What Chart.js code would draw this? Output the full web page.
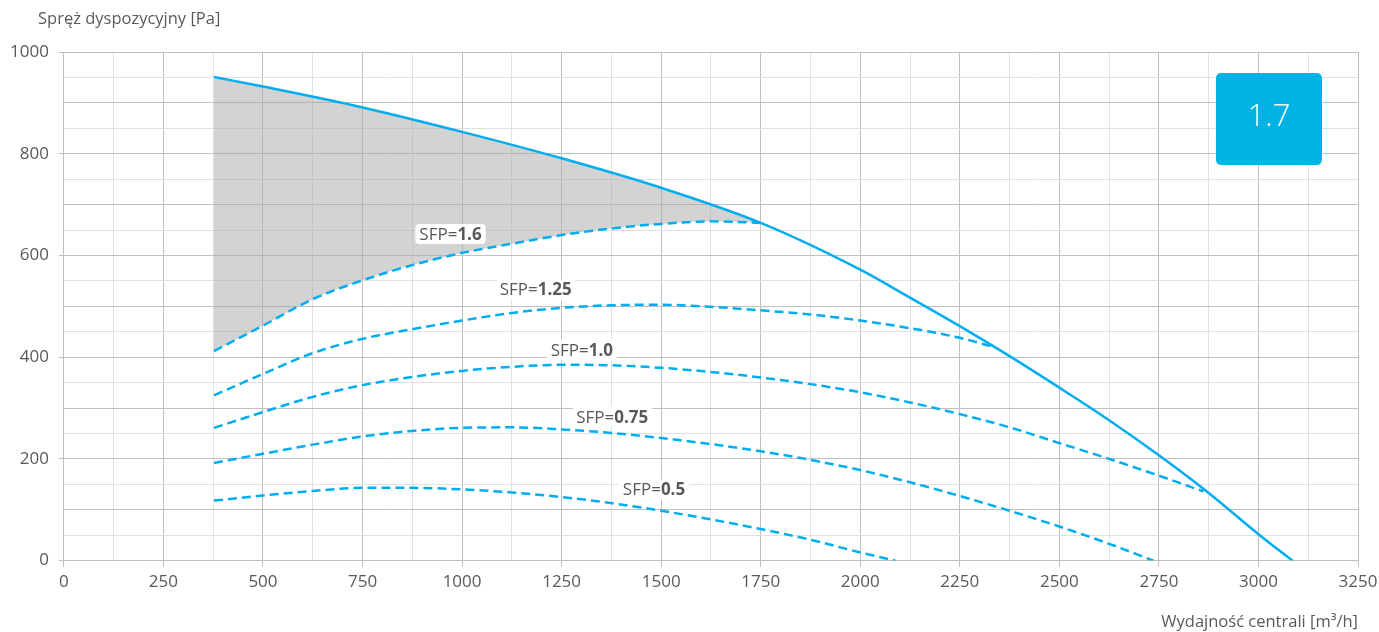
<!DOCTYPE html>
<html>
<head>
<meta charset="utf-8">
<script src="https://cdn.jsdelivr.net/npm/chart.js@4/dist/chart.umd.min.js"></script>
<style>
  html, body { margin: 0; padding: 0; background: #fff; }
  #wrap { width: 1379px; height: 632px; }
</style>
</head>
<body>
<div id="wrap"><canvas id="fanChart"></canvas></div>
<script>
// przepływ [m3/h] i spręż [Pa]
const mainX = [377, 500, 750, 1000, 1250, 1500, 1750, 2000, 2125, 2250, 2375, 2500, 2625, 2750, 2875, 3000, 3085];
const mainY = [951, 932, 891, 843, 791, 733, 664, 572, 517, 461, 402, 340, 276, 207, 133, 52, 0];

const sfp16X = [377, 500, 625, 750, 875, 1000, 1125, 1250, 1375, 1500, 1625, 1750];
const sfp16Y = [412, 462, 514, 551, 581, 605, 623, 640, 653, 662, 667, 664];

const sfp125X = [377, 500, 625, 750, 875, 1000, 1125, 1250, 1375, 1500, 1625, 1750, 1875, 2000, 2125, 2250, 2340];
const sfp125Y = [325, 367, 408, 436, 455, 472, 487, 497, 502, 503, 499, 492, 484, 472, 457, 438, 419];

const sfp10X = [377, 500, 625, 750, 875, 1000, 1125, 1250, 1375, 1500, 1625, 1750, 1875, 2000, 2125, 2250, 2375, 2500, 2625, 2750, 2862];
const sfp10Y = [261, 292, 322, 345, 361, 373, 381, 385, 384, 379, 371, 360, 347, 331, 311, 288, 262, 231, 200, 167, 136];

const sfp075X = [377, 500, 625, 750, 875, 1000, 1125, 1250, 1375, 1500, 1625, 1750, 1875, 2000, 2125, 2250, 2375, 2500, 2625, 2736];
const sfp075Y = [192, 210, 228, 244, 255, 261, 262, 258, 251, 241, 229, 215, 198, 178, 154, 127, 98, 67, 33, 0];

const sfp05X = [377, 500, 625, 750, 875, 1000, 1125, 1250, 1375, 1500, 1625, 1750, 1875, 2000, 2088];
const sfp05Y = [118, 128, 137, 143, 143, 140, 134, 125, 113, 98, 81, 62, 41, 16, 0];

const sfpNames = ["1.6", "1.25", "1.0", "0.75", "0.5"];
const badgeText = "1.7";
const xTitle = "Wydajność centrali [m³/h]";
const yTitle = "Spręż dyspozycyjny [Pa]";

const BLUE = "#00AEEF";
const TEXT = "#595959";
const FONT = "'Open Sans', 'Noto Sans', sans-serif";

function pts(xs, ys) {
	return xs.map((x, i) => ({ x: x, y: ys[i] }));
}

function dashed(xs, ys) {
	return {
		data: pts(xs, ys),
		borderColor: BLUE,
		borderWidth: 2.5,
		borderDash: [9, 5],
		pointRadius: 0,
		cubicInterpolationMode: "monotone",
		fill: false,
	};
}

// szary obszar: krzywa wentylatora do punktu przecięcia z SFP=1.6
const areaX = mainX.filter((x) => x <= 1750);
const areaY = mainY.slice(0, areaX.length);

const datasets = [
	{
		data: pts(mainX, mainY),
		borderColor: BLUE,
		borderWidth: 2.5,
		pointRadius: 0,
		cubicInterpolationMode: "monotone",
		fill: false,
	},
	dashed(sfp16X, sfp16Y),
	dashed(sfp125X, sfp125Y),
	dashed(sfp10X, sfp10Y),
	dashed(sfp075X, sfp075Y),
	dashed(sfp05X, sfp05Y),
	{
		data: pts(areaX, areaY),
		borderWidth: 0,
		borderColor: "rgba(0,0,0,0)",
		backgroundColor: "rgba(168,168,168,0.5)",
		pointRadius: 0,
		cubicInterpolationMode: "monotone",
		fill: 1,
	},
];

// etykiety SFP (środek etykiety w jednostkach danych)
const labelAnchors = [
	[971, 642],
	[1185, 533],
	[1301, 413],
	[1377, 283],
	[1482, 140],
];

const extras = {
	id: "extras",
	afterDatasetsDraw(chart) {
		const ctx = chart.ctx;
		const xs = chart.scales.x;
		const ys = chart.scales.y;
		const area = chart.chartArea;
		ctx.save();
		ctx.textBaseline = "middle";

		// etykiety SFP
		sfpNames.forEach((name, i) => {
			const cx = xs.getPixelForValue(labelAnchors[i][0]);
			const cy = ys.getPixelForValue(labelAnchors[i][1]);
			ctx.font = "17px " + FONT;
			const w1 = ctx.measureText("SFP=").width;
			ctx.font = "bold 17px " + FONT;
			const w2 = ctx.measureText(name).width;
			const w = w1 + w2;
			ctx.fillStyle = "#fff";
			ctx.beginPath();
			ctx.roundRect(cx - w / 2 - 4, cy - 10, w + 8, 20, 4);
			ctx.fill();
			ctx.fillStyle = TEXT;
			ctx.textAlign = "left";
			ctx.font = "17px " + FONT;
			ctx.fillText("SFP=", cx - w / 2, cy + 1);
			ctx.font = "bold 17px " + FONT;
			ctx.fillText(name, cx - w / 2 + w1, cy + 1);
		});

		// niebieski znacznik
		const bx = area.right - 142;
		const by = area.top + 21;
		ctx.fillStyle = "#00B3E6";
		ctx.beginPath();
		ctx.roundRect(bx, by, 106, 92, 5);
		ctx.fill();
		ctx.fillStyle = "#fff";
		ctx.textAlign = "center";
		ctx.font = "300 31px " + FONT;
		ctx.fillText(badgeText, bx + 53, by + 44);

		// tytuły osi
		ctx.fillStyle = TEXT;
		ctx.font = "16.5px " + FONT;
		ctx.textAlign = "left";
		ctx.fillText(yTitle, 38, 19);
		ctx.textAlign = "right";
		ctx.fillText(xTitle, area.right, 622);
		ctx.restore();
	},
};

new Chart(document.getElementById("fanChart"), {
	type: "scatter",
	data: { datasets: datasets },
	plugins: [extras],
	options: {
		responsive: true,
		maintainAspectRatio: false,
		animation: false,
		showLine: true,
		layout: { padding: { left: 0, right: 21, top: 52, bottom: 35 } },
		plugins: {
			legend: { display: false },
			tooltip: { enabled: false },
		},
		scales: {
			x: {
				type: "linear",
				min: 0,
				max: 3250,
				afterFit: (s) => {
					s.paddingRight = 0;
				},
				border: { color: "#BFBFBF" },
				grid: {
					color: (c) => (c.tick.value % 250 === 0 ? "#C0C0C0" : "#E0E0E0"),
					tickColor: (c) => (c.tick.value % 250 === 0 ? "#BFBFBF" : "rgba(0,0,0,0)"),
					tickLength: 6,
				},
				ticks: {
					stepSize: 125,
					autoSkip: false,
					maxRotation: 0,
					padding: 5,
					color: TEXT,
					font: { family: FONT, size: 17 },
					callback: (v) => (v % 250 === 0 ? v : ""),
				},
			},
			y: {
				type: "linear",
				min: 0,
				max: 1000,
				border: { color: "#BFBFBF" },
				grid: {
					color: (c) => (c.tick.value % 100 === 0 ? "#C0C0C0" : "#E0E0E0"),
					tickColor: (c) => (c.tick.value % 200 === 0 ? "#BFBFBF" : "rgba(0,0,0,0)"),
					tickLength: 5,
				},
				ticks: {
					stepSize: 50,
					autoSkip: false,
					padding: 10,
					color: TEXT,
					font: { family: FONT, size: 17 },
					callback: (v) => (v % 200 === 0 ? v : ""),
				},
			},
		},
	},
});
</script>
</body>
</html>
